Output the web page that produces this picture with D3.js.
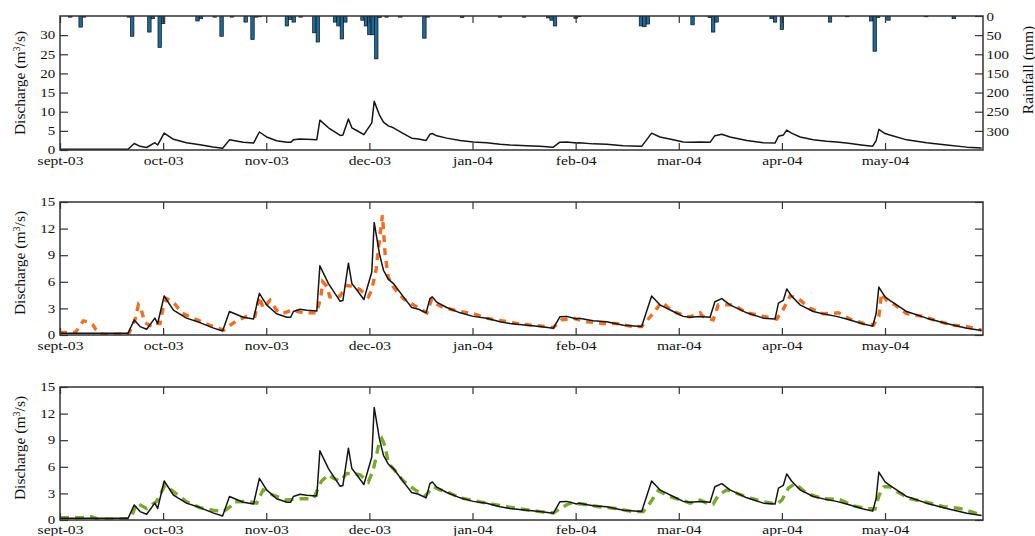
<!DOCTYPE html>
<html><head><meta charset="utf-8">
<script src="https://cdn.jsdelivr.net/npm/d3@7"></script>
<style>
html,body{margin:0;padding:0;background:#fff;}
svg text{font-family:"Liberation Serif","Times New Roman",Times,"DejaVu Serif",serif;fill:#111;}
</style></head>
<body>
<svg id="chart" width="1035" height="536"></svg>
<script>
// ---- data (day index from 1 Sept 2003) ----
const monthLabels = ["sept-03","oct-03","nov-03","dec-03","jan-04","feb-04","mar-04","apr-04","may-04"];
const monthTickDays = [0,30,60,90,120,150,180,210,240];
const dischargeTicksTop = [0,5,10,15,20,25,30];
const dischargeTicks = [0,3,6,9,12,15];
const rainTicks = [0,50,100,150,200,250,300];

const rainDays = [3,6,7,20,21,26,27,29,30,40,41,45,47,50,54,56,57,58,66,67,68,70,74,75,80,81,82,83,88,89,90,91,92,93,95,99,106,107,117,128,135,142,143,144,150,151,169,170,171,184,189,190,191,207,208,210,224,229,236,237,238,241,252,260];
const rainMm   = [3,29,3,3,53,42,7,82,20,13,7,3,53,3,16,61,3,2,26,9,16,3,44,68,16,26,60,16,11,26,49,49,112,4,3,3,58,3,4,3,3,5,11,26,6,2,26,28,21,23,4,42,16,7,16,35,16,2,13,92,4,11,2,7];

const obsDays = [0,19.8,21.6,23.3,25.2,27.6,28.4,30.3,33,36.8,40.7,44.5,47.3,49.3,53.3,56.3,58,60.1,63,66,67.1,67.9,69.8,71.8,74.7,75.6,78.1,81.5,82.3,83.9,84.9,86.3,88.4,90.7,91.4,92.9,94.1,95.5,97,99.9,102.3,104.3,106.5,107.6,108.3,109.6,112.5,116.4,120.2,124.1,128,130.9,135.8,139.6,143.5,145.4,147.4,150.3,151,155.1,159,163.9,169.2,172.1,174.5,178.4,181.3,183.3,186.2,189.1,190.5,192.5,194.9,199.8,204.6,208,209,210.4,211.4,212.8,215.3,219.1,223,225.9,228.8,233.7,236.4,237.4,238.2,240,241.4,246.3,252.1,257.9,263.8,268.1];
const obsQ    = [0.2,0.2,1.7,0.95,0.65,1.9,1.3,4.4,2.8,1.9,1.4,0.8,0.45,2.65,2.0,1.8,4.7,3.4,2.4,2.0,2.0,2.65,2.9,2.8,2.7,7.8,5.8,3.8,3.9,8.1,5.8,5.1,4.0,7.1,12.7,9.2,7.3,6.3,5.8,4.3,3.1,2.9,2.5,4.1,4.3,3.7,3.1,2.5,2.1,1.9,1.5,1.3,1.1,0.95,0.75,2.05,2.1,1.8,1.9,1.6,1.5,1.1,0.95,4.4,3.4,2.65,2.1,2.0,2.1,2.0,3.75,4.1,3.4,2.5,1.9,1.8,3.6,3.9,5.2,4.4,3.4,2.65,2.3,2.1,1.8,1.25,1.0,2.4,5.4,4.3,3.9,2.65,1.9,1.3,0.75,0.5];

const sim1Days = [0,4.5,6.8,8,9.5,10.5,12.5,17,20,21.8,22.8,23.5,24.7,26.7,27.5,29.1,30,31,33,35.4,39.3,43.6,47.7,49.5,51.4,54.3,56.7,58,59.1,61.1,63,64.5,67.4,70.8,74.7,75.9,76.4,77.6,78.5,81.5,83.4,85.8,87.3,89.7,90.7,92,93,93.8,94.6,95.5,97,99.9,103.7,106.7,108.1,109,111.5,116.4,120.2,124.1,130,133.8,137.7,141.6,143.5,145.9,149.3,153.2,158,161.9,165.8,169.2,172.6,175,178.4,182.3,183.3,186.2,187,190,191.5,195.9,199.8,204.6,208.5,210.4,212.4,214.8,218.2,222,226.4,229.8,233.7,236.6,238.2,239,240.5,242.9,246.3,251.1,255,259.9,263.8,268.1];
const sim1Q    = [0.3,0.3,1.6,1.5,1.15,0.6,0.05,0.1,0.15,1.7,3.4,3.0,1.4,0.95,1.3,1.3,3.1,4.1,3.7,2.5,1.8,1.1,0.55,1.1,1.6,2.1,2.1,4.35,3.0,3.9,2.8,2.4,2.8,2.5,2.5,4.35,6.0,5.5,4.3,4.4,5.6,5.4,5.1,4.3,5.1,7.5,11.0,13.5,9.0,6.5,5.4,4.1,3.2,2.5,4.0,3.6,3.1,2.65,2.4,1.9,1.5,1.25,1.1,0.95,0.85,1.7,1.9,1.5,1.3,1.3,1.0,0.95,2.45,3.7,2.65,2.1,2.05,2.5,2.1,1.7,3.4,3.4,2.5,2.1,1.8,2.9,4.4,4.1,3.0,2.4,2.5,1.8,1.3,1.1,2.1,4.7,3.9,3.4,2.4,2.1,1.6,1.1,0.95,0.55];

const sim2Days = [0,5.5,9.2,11,17,19.8,20.8,22.3,25.2,28.1,30.5,33,36.8,40.7,44.5,47.5,49.5,50.5,54.3,57.2,59.1,62,66,69.8,73.7,76.1,78.1,79.5,81.5,83.4,85.3,87.3,89.7,91.1,92.9,93.6,94.6,95.5,97.4,99.9,103.3,106.2,108.6,110.5,112.5,116.4,122.2,127,133.8,139.6,143.5,146.4,148.3,152,156.9,161.7,166.6,169.7,171.6,174,177.4,182.3,183.3,186.2,188.1,190,191.5,194,196.9,200.7,204.6,208.5,210,211.9,213.8,217.2,222,226.9,230.8,234.7,237.1,238.3,239.7,241.5,243.4,247.3,252.1,257,261.8,265.7,268.1];
const sim2Q    = [0.25,0.25,0.37,0.1,0.1,0.15,0.37,1.9,1.3,2.1,3.9,3.2,2.05,1.4,1.1,0.95,1.5,2.05,2.1,1.9,3.4,2.8,2.25,2.4,2.4,4.4,5.1,4.7,4.4,5.25,5.25,5.1,4.3,5.6,8.8,9.2,8.3,6.4,5.6,4.4,3.4,2.7,3.75,3.4,3.2,2.5,2.05,1.7,1.25,0.95,0.8,1.5,1.9,1.8,1.5,1.3,0.95,0.95,1.9,3.3,2.65,2.05,1.9,2.25,1.9,1.8,2.8,3.4,3.0,2.5,2.05,1.8,2.25,3.6,4.1,3.0,2.4,2.3,1.6,1.3,1.25,2.8,3.75,3.75,3.2,2.4,2.0,1.5,1.3,0.85,0.55];

// ---- layout ----
const FONT = '"Liberation Serif","Times New Roman",Times,"DejaVu Serif",serif';
const svg = d3.select("#chart");
const X0 = 60, X1 = 983;
const x = d3.scaleLinear().domain([0, 268.5]).range([X0, X1]);
const panels = [
  {top:16,  bottom:150, ymax:35, ticks:dischargeTicksTop, titleY:83,  pad:6},
  {top:202, bottom:335, ymax:15, ticks:dischargeTicks,    titleY:263, pad:6},
  {top:387, bottom:520, ymax:15, ticks:dischargeTicks,    titleY:448, pad:4.5}
];
const axisColor = "#333";
const line = (ys) => d3.line().x(d=>x(d[0])).y(d=>ys(d[1]));
const zip = (a,b) => a.map((v,i)=>[v,b[i]]);

function styleAxis(g, fs, sx){
  g.attr("font-family", FONT).attr("font-size", fs);
  g.select(".domain").remove();
  g.selectAll(".tick line").attr("stroke", axisColor).attr("stroke-width", 1.2);
  const tx = g.selectAll(".tick text").attr("font-family", FONT).attr("font-size", fs).attr("fill","#111");
  if (sx) tx.attr("transform", `scale(${sx},1)`);
}

panels.forEach((p, i) => {
  const y = d3.scaleLinear().domain([0, p.ymax]).range([p.bottom, p.top]);
  const clipId = "clip"+i;
  svg.append("clipPath").attr("id", clipId).append("rect")
    .attr("x", X0).attr("y", p.top).attr("width", X1-X0).attr("height", p.bottom-p.top);

  if (i === 0) {
    const yr = d3.scaleLinear().domain([0, 350]).range([p.top, p.bottom]);
    const bw = x(1) - x(0);
    svg.append("g").attr("clip-path", `url(#${clipId})`).selectAll("rect")
      .data(zip(rainDays, rainMm)).join("rect")
      .attr("x", d => x(d[0]) - bw/2).attr("width", bw)
      .attr("y", yr(0)).attr("height", d => yr(d[1]) - yr(0))
      .attr("fill", "#1c6a9b").attr("stroke", "#111").attr("stroke-width", 0.7);
    const gr = svg.append("g").attr("transform", `translate(${X1},0)`)
      .call(d3.axisRight(yr).tickValues(rainTicks).tickSize(-8).tickPadding(3));
    styleAxis(gr, 12.5, 1.2);
    gr.selectAll(".tick text").attr("dy", "0.34em");
    svg.append("text").attr("transform", `translate(1033,70) rotate(-90)`)
      .attr("font-family", FONT).attr("font-size", 15.5)
      .attr("text-anchor","middle").text("Rainfall (mm)");
  } else {
    const gr = svg.append("g").attr("transform", `translate(${X1},0)`)
      .call(d3.axisRight(y).tickValues(p.ticks).tickSize(-8).tickFormat(""));
    styleAxis(gr, 12.5);
  }

  const gl = svg.append("g").attr("clip-path", `url(#${clipId})`);
  if (i === 1) {
    gl.append("path").datum(zip(sim1Days, sim1Q)).attr("d", line(y))
      .attr("fill","none").attr("stroke","#f26f21").attr("stroke-width",3.4)
      .attr("stroke-dasharray","7,6");
  }
  if (i === 2) {
    gl.append("path").datum(zip(sim2Days, sim2Q)).attr("d", line(y))
      .attr("fill","none").attr("stroke","#7aaa2c").attr("stroke-width",3.4)
      .attr("stroke-dasharray","9,6");
  }
  gl.append("path").datum(zip(obsDays, obsQ)).attr("d", line(y))
    .attr("fill","none").attr("stroke","#151515").attr("stroke-width",1.5)
    .attr("stroke-linejoin","round");

  const gy = svg.append("g").attr("transform", `translate(${X0},0)`)
    .call(d3.axisLeft(y).tickValues(p.ticks).tickSize(-8).tickPadding(4));
  styleAxis(gy, 12.5, 1.2);
  gy.selectAll(".tick text").attr("dy", "0.3em");
  const gb = svg.append("g").attr("transform", `translate(0,${p.bottom})`)
    .call(d3.axisBottom(x).tickValues(monthTickDays).tickSize(-7).tickPadding(p.pad)
      .tickFormat((d,k)=>monthLabels[k]));
  styleAxis(gb, 13, 1.2);
  const gt = svg.append("g").attr("transform", `translate(0,${p.top})`)
    .call(d3.axisTop(x).tickValues(monthTickDays).tickSize(-7).tickFormat(""));
  styleAxis(gt, 13);

  svg.append("rect").attr("x", X0).attr("y", p.top).attr("width", X1-X0).attr("height", p.bottom-p.top)
    .attr("fill","none").attr("stroke", axisColor).attr("stroke-width",1.5);

  const t = svg.append("text").attr("transform", `translate(25,${p.titleY}) rotate(-90)`)
    .attr("font-family", FONT).attr("font-size", 15.5)
    .attr("text-anchor","middle");
  t.append("tspan").text("Discharge (m");
  t.append("tspan").attr("baseline-shift","super").attr("font-size", 10).text("3");
  t.append("tspan").text("/s)");
});
</script>
</body></html>
